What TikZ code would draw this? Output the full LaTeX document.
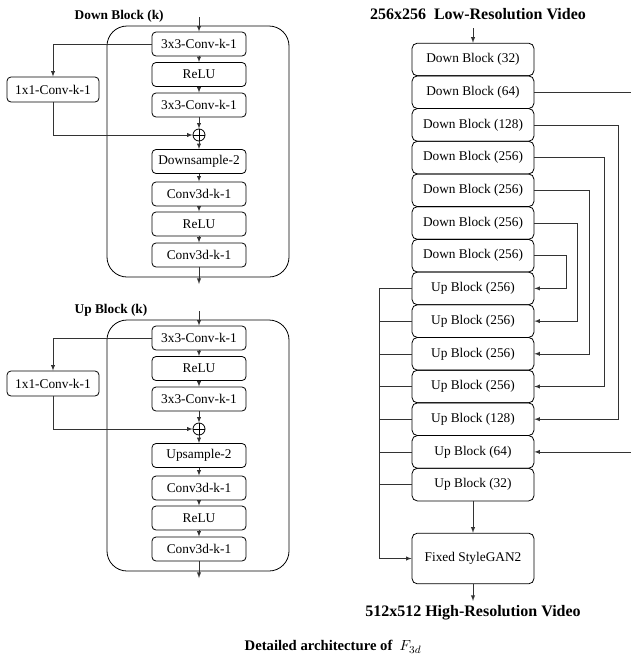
\documentclass[tikz,border=0pt]{standalone}
\usepackage{fontspec}
\setmainfont{Liberation Serif}
\usetikzlibrary{arrows}
\tikzset{blk/.style={draw, rounded corners=3pt, line width=0.6pt,
    minimum width=70.5pt, minimum height=18pt, inner sep=0pt,
    font=\fontsize{10}{12}\selectfont}}
\tikzset{col/.style={draw, rounded corners=4pt, line width=0.6pt,
    minimum width=91.5pt, minimum height=24.5pt, inner sep=0pt,
    font=\fontsize{10}{12}\selectfont}}
\tikzset{addop/.style={draw, circle, line width=0.6pt, minimum size=9pt, inner sep=0pt,
    path picture={\draw (path picture bounding box.north) -- (path picture bounding box.south)
      (path picture bounding box.west) -- (path picture bounding box.east);}}}
\tikzset{conn/.style={line width=0.45pt, draw=black!80}}
\tikzset{ttl/.style={font=\bfseries\fontsize{10}{12}\selectfont, anchor=west}}
\tikzset{big/.style={font=\bfseries\fontsize{12}{14}\selectfont}}

\begin{document}
\begin{tikzpicture}[x=0.75pt, y=-0.75pt, >=latex]
  \useasboundingbox (0,0) rectangle (631,668);

  \foreach \pre/\oy/\lbl/\smp in {d/0/Down Block (k)/Downsample-2, u/294/Up Block (k)/Upsample-2} {
    \node [ttl] (\pre-ttl) at (70, {16+\oy}) {\lbl};
    \draw [line width=0.6pt, rounded corners=15pt] (107, {26+\oy}) rectangle (289, {277+\oy});
    \coordinate (\pre-in) at (199, {17+\oy});
    \coordinate (\pre-out) at (199, {284+\oy});
    \node [blk] (\pre-c1) at (199, {44+\oy}) {3x3-Conv-k-1};
    \node [blk] (\pre-r1) at (199, {74.5+\oy}) {ReLU};
    \node [blk] (\pre-c2) at (199, {105+\oy}) {3x3-Conv-k-1};
    \node [addop] (\pre-add) at (199, {135+\oy}) {};
    \node [blk] (\pre-smp) at (199, {161.5+\oy}) {\smp};
    \node [blk] (\pre-c3) at (199, {194+\oy}) {Conv3d-k-1};
    \node [blk] (\pre-r2) at (199, {224+\oy}) {ReLU};
    \node [blk] (\pre-c4) at (199, {255+\oy}) {Conv3d-k-1};
    \node [blk, minimum width=69pt, minimum height=18.75pt] (\pre-sk) at (53, {89.5+\oy}) {1x1-Conv-k-1};

    \foreach \src/\dst in {in/c1, c1/r1, r1/c2, c2/add, add/smp, smp/c3, c3/r2, r2/c4, c4/out}
      \draw [conn, ->] (\pre-\src) -- (\pre-\dst);
    \draw [conn, ->] (\pre-c1.west) -| (\pre-sk.north);
    \draw [conn, ->] (\pre-sk.south) |- (\pre-add.west);
  }

  \node [big] (lr) at (478, 14) {256x256\ \ Low-Resolution Video};
  \coordinate (lr-in) at (473, 28);
  \foreach \i/\lbl in {0/Down Block (32), 1/Down Block (64), 2/Down Block (128), 3/Down Block (256),
      4/Down Block (256), 5/Down Block (256), 6/Down Block (256), 7/Up Block (256), 8/Up Block (256),
      9/Up Block (256), 10/Up Block (256), 11/Up Block (128), 12/Up Block (64), 13/Up Block (32)}
    \node [col] (r\i) at (473, {59.5+32.7*\i}) {\lbl};
  \node [col, minimum height=38pt] (gan) at (473, 558.5) {Fixed StyleGAN2};
  \node [big] (hr) at (473, 613) {512x512 High-Resolution Video};

  \draw [conn, ->] (lr-in) -- (r0);
  \draw [conn, ->] (r13) -- (gan);
  \draw [conn, ->] (gan) -- (hr);

  \foreach \i/\xb in {1/640, 2/618, 3/604, 4/589, 5/577, 6/566} {
    \pgfmathtruncatemacro\j{13-\i}
    \coordinate (k\i) at (\xb, 0);
    \draw [conn, ->] (r\i.east) -- (r\i.east -| k\i) |- (r\j.east);
  }

  \coordinate (bus) at (379, 0);
  \foreach \i in {7,...,13}
    \draw [conn] (r\i.west) -- (r\i.west -| bus);
  \draw [conn, ->] (r7.west -| bus) |- (gan.west);

  \node [font=\bfseries\fontsize{11}{13}\selectfont] (cap) at (333, 647) {Detailed architecture of\ \ $F_{3d}$};
\end{tikzpicture}
\end{document}
